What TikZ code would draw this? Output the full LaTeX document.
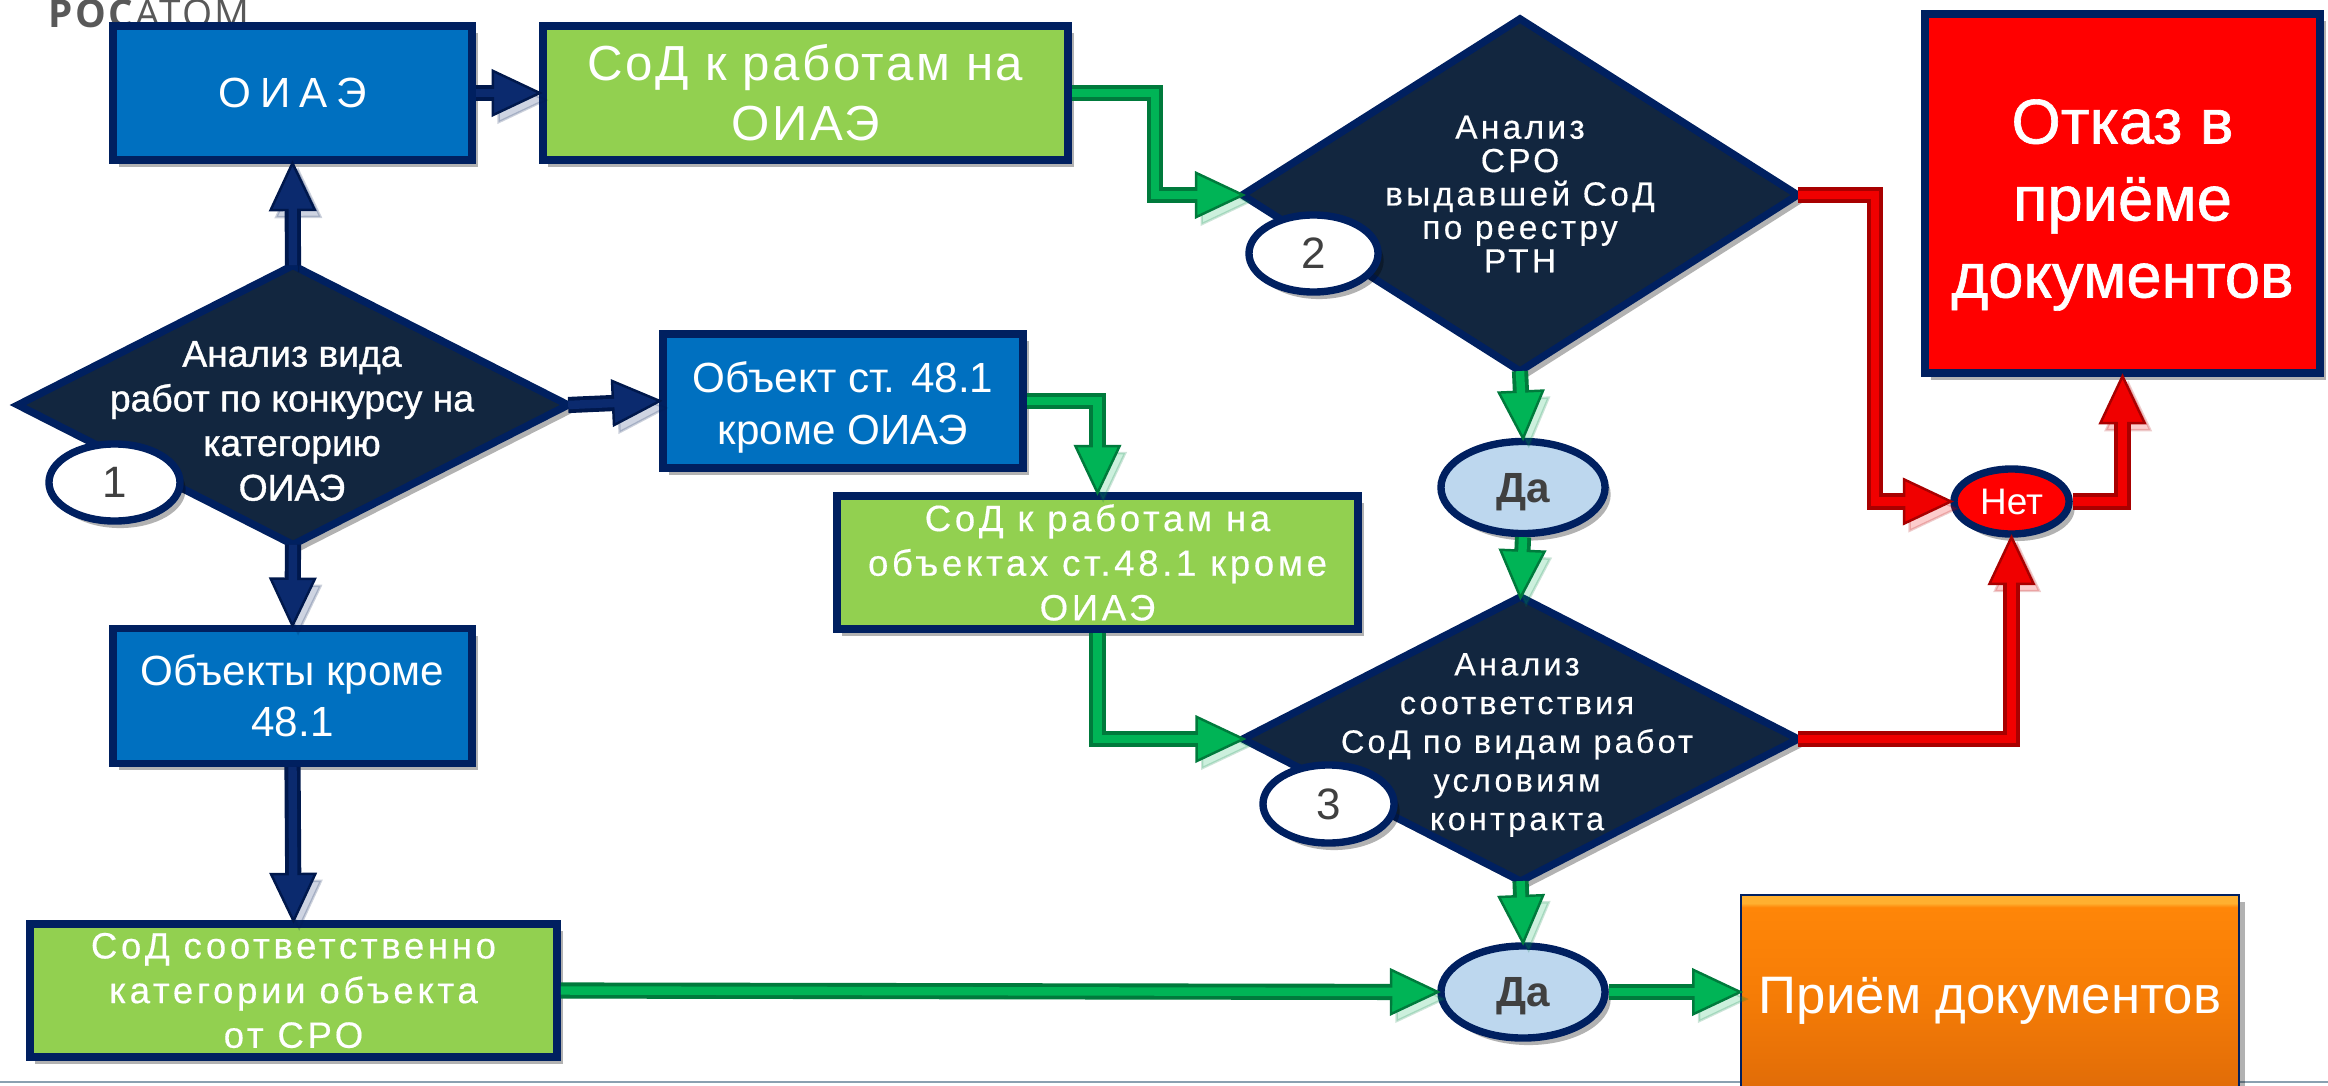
\documentclass[tikz,border=0pt]{standalone}
\usepackage{fontspec}
\setmainfont{Liberation Sans}
\newfontfamily\widefont[LetterSpace=5]{Liberation Sans}
\newfontfamily\spacedfont[LetterSpace=10,FakeBold=0.4]{Liberation Sans}
\newfontfamily\widerfont[LetterSpace=22]{Liberation Sans}
\newfontfamily\thickfont[FakeBold=1]{Liberation Sans}
\newfontfamily\logofont[LetterSpace=6]{Open Sans}
\usetikzlibrary{arrows.meta,shapes.geometric,shadows}
\definecolor{navy}{HTML}{002060}
\definecolor{navydark}{HTML}{00184C}
\definecolor{navylight}{HTML}{0B2A6E}
\definecolor{boxblue}{HTML}{0070C0}
\definecolor{boxgreen}{HTML}{92D050}
\definecolor{diafill}{HTML}{12263F}
\definecolor{edgegreen}{HTML}{007A3C}
\definecolor{edgegreenlight}{HTML}{00B456}
\definecolor{edgered}{HTML}{A80000}
\definecolor{edgeredlight}{HTML}{F00000}
\definecolor{paleblue}{HTML}{BDD7EE}
\definecolor{numgrey}{HTML}{404040}
\definecolor{rulegrey}{HTML}{8AA0B0}
\definecolor{orlow}{HTML}{DE6A08}
\definecolor{ormid}{HTML}{F57C06}
\definecolor{orhigh}{HTML}{FF8608}
\definecolor{orbevel}{HTML}{FFB030}
\pgfdeclareverticalshading{orangebevel}{100bp}{color(0bp)=(orlow); color(25bp)=(orlow); color(50bp)=(ormid); color(72bp)=(orhigh); color(73bp)=(orbevel); color(100bp)=(orbevel)}
\newcommand{\fsz}[2]{\fontsize{#1}{#2}\selectfont}

\begin{document}
\begin{tikzpicture}[x=0.01cm, y=-0.01cm,
    softshadow/.style={drop shadow={shadow xshift=1.6pt, shadow yshift=-2pt, opacity=.3, fill=black}},
    main/.style={draw=navy, line width=2.1pt, text=white, align=center, inner sep=0pt, softshadow},
    bluebox/.style={main, rectangle, fill=boxblue},
    greenbox/.style={main, rectangle, fill=boxgreen},
    dia/.style={main, diamond, fill=diafill, outer sep=0pt},
    plaintext/.style={text=white, align=center, inner sep=0pt},
    num/.style={main, ellipse, fill=white, text=numgrey, font=\fsz{12.5}{14}},
    yes/.style={main, ellipse, fill=paleblue, text=numgrey, text depth=0pt, font=\bfseries\fsz{12}{14}, minimum width=1.64cm, minimum height=0.92cm},
    edgeline/.style 2 args={line width=4.6pt, draw=#1, shorten >=-1pt, -{Triangle[length=14.5pt, width=13.5pt, fill=#2, color=#1, line width=0.7pt]},
        preaction={draw=black, opacity=.2, transform canvas={xshift=1.6pt, yshift=-2pt}},
        postaction={draw=#2, line width=2.4pt, shorten >=8pt, -}},
    navyedge/.style={edgeline={navydark}{navylight}},
    greenedge/.style={edgeline={edgegreen}{edgegreenlight}},
    rededge/.style={edgeline={edgered}{edgeredlight}}]

    \useasboundingbox (0,0) rectangle (2328,1085);

    \draw[draw=rulegrey, line width=0.7pt] (0,1082) -- (2328,1082);
    \node[text=black!65, anchor=base west, inner sep=0pt, font=\logofont\fsz{11}{13}] (logo) at (48,28) {\textbf{РОС}АТОМ};

    \node[bluebox, minimum width=3.59cm, minimum height=1.34cm, font=\widerfont\fsz{12}{14}] (oiae) at (292.5,93) {ОИАЭ};
    \node[greenbox, minimum width=5.25cm, minimum height=1.34cm, font=\widefont\fsz{14}{17}] (sodoiae) at (805.5,93) {СоД к работам на\\ОИАЭ};
    \node[bluebox, minimum width=3.60cm, minimum height=1.34cm] (objart) at (843,401) {};
    \node[plaintext, font=\fsz{12}{14.8}] (objarttext) at (843,407) {Объект ст. 48.1\\кроме ОИАЭ};
    \node[bluebox, minimum width=3.59cm, minimum height=1.345cm, font=\fsz{12}{14.5}] (objnot) at (292.5,696) {Объекты кроме\\48.1};
    \node[greenbox, minimum width=5.27cm, minimum height=1.33cm, font=\spacedfont\fsz{10.4}{12.7}] (sodcat) at (293.5,990.5) {СоД соответственно\\категории объекта\\от СРО};
    \node[greenbox, minimum width=5.21cm, minimum height=1.33cm, font=\spacedfont\fsz{10.4}{12.7}] (sodobj) at (1097.5,562.5) {СоД к работам на\\объектах ст.48.1 кроме\\ОИАЭ};
    \node[main, rectangle, fill=red, minimum width=3.95cm, minimum height=3.59cm] (reject) at (2122.5,193.5) {};
    \node[plaintext, font=\thickfont\fsz{18}{21.9}] (rejecttext) at (2122.5,205) {Отказ в\\приёме\\документов};
    \node[main, rectangle, line width=0.7pt, shade, shading=orangebevel, minimum width=4.98cm, minimum height=2.06cm] (accept) at (1990,998) {};
    \node[text=white, inner sep=0pt, font=\fsz{15}{16}] (accepttext) at (1990,1001) {Приём документов};

    \node[dia, minimum width=5.5cm, minimum height=2.79cm] (an1) at (293,405) {};
    \node[plaintext, font=\thickfont\fsz{10.6}{12.7}] (an1text) at (292,421) {Анализ вида\\работ по конкурсу на\\категорию\\ОИАЭ};
    \node[dia, minimum width=5.55cm, minimum height=3.52cm] (an2) at (1520,195) {};
    \node[plaintext, font=\spacedfont\fsz{9.5}{9.5}] (an2text) at (1520,194) {Анализ\\СРО\\выдавшей СоД\\по реестру\\РТН};
    \node[dia, minimum width=5.55cm, minimum height=2.84cm] (an3) at (1520.5,739) {};
    \node[plaintext, font=\spacedfont\fsz{9.2}{11}] (an3text) at (1517,745) {Анализ\\соответствия\\СоД по видам работ\\условиям\\контракта};

    \node[num, minimum width=1.31cm, minimum height=0.77cm] (num1) at (114.5,482.5) {1};
    \node[num, minimum width=1.29cm, minimum height=0.77cm] (num2) at (1313.5,253.5) {2};
    \node[num, minimum width=1.31cm, minimum height=0.78cm] (num3) at (1328.5,804) {3};

    \node[yes] (yes1) at (1523,487.5) {Да};
    \node[yes] (yes2) at (1523,992) {Да};
    \node[main, ellipse, fill=red, minimum width=1.15cm, minimum height=0.65cm, font=\fsz{10.5}{12}] (no) at (2011.5,501.5) {Нет};

    \coordinate (bend1) at (1155,150);
    \coordinate (bend2) at (1875,350);

    \draw[navyedge] (an1.north) -- (oiae.south);
    \draw[navyedge] (oiae.east) -- (sodoiae.west);
    \draw[navyedge] (an1.east) -- (objart.west);
    \draw[navyedge] (an1.south) -- (objnot.north);
    \draw[navyedge] (objnot.south) -- (sodcat.north);

    \draw[greenedge] (sodoiae.east) -| (bend1) |- (an2.west);
    \draw[greenedge] (objart.east) -| (sodobj.north);
    \draw[greenedge] (sodobj.south) |- (an3.west);
    \draw[greenedge] (an2.south) -- (yes1.north);
    \draw[greenedge] (yes1.south) -- (an3.north);
    \draw[greenedge] (an3.south) -- (yes2.north);
    \draw[greenedge] (sodcat.east) -- (yes2.west);
    \draw[greenedge] (yes2.east) -- (yes2.east -| accept.west);

    \draw[rededge] (an2.east) -| (bend2) |- (no.west);
    \draw[rededge] (an3.east) -| (no.south);
    \draw[rededge] (no.east) -| (reject.south);
\end{tikzpicture}
\end{document}
